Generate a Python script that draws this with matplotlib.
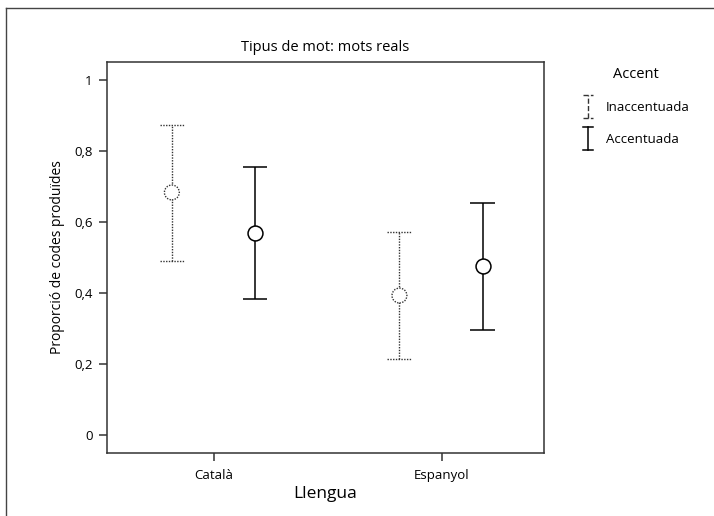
import matplotlib
matplotlib.use("Agg")
import matplotlib.pyplot as plt
from matplotlib.lines import Line2D
from matplotlib.legend_handler import HandlerBase

plt.rcParams['font.family'] = ['Open Sans', 'DejaVu Sans']

# data
languages = ["Català", "Espanyol"]
groups = ["Inaccentuada", "Accentuada"]
means = {"Inaccentuada": [0.683, 0.393], "Accentuada": [0.570, 0.475]}
lower = {"Inaccentuada": [0.491, 0.215], "Accentuada": [0.384, 0.297]}
upper = {"Inaccentuada": [0.874, 0.571], "Accentuada": [0.755, 0.653]}
yticks = [0, 0.2, 0.4, 0.6, 0.8, 1]
ytick_labels = ["0", "0,2", "0,4", "0,6", "0,8", "1"]

styles = {
    "Inaccentuada": dict(ls=(0, (1, 1)), lw=1.0, color="#333333", offset=-0.185),
    "Accentuada": dict(ls="-", lw=1.1, color="black", offset=0.18),
}
cap = 0.053


class IBeamHandler(HandlerBase):
    # vertical bar with two caps, like the error bars
    def create_artists(self, legend, orig_handle, xdescent, ydescent,
                       width, height, fontsize, trans):
        ls = orig_handle.get_linestyle()
        lw = orig_handle.get_linewidth()
        col = orig_handle.get_color()
        cx = width / 2 - xdescent
        y0 = -ydescent - 5
        y1 = height - ydescent + 5
        hw = 3.6
        arts = [
            Line2D([cx, cx], [y0, y1], ls=ls, lw=lw, color=col),
            Line2D([cx - hw, cx + hw], [y0, y0], ls=ls, lw=lw, color=col),
            Line2D([cx - hw, cx + hw], [y1, y1], ls=ls, lw=lw, color=col),
        ]
        for a in arts:
            a.set_transform(trans)
        return arts


fig = plt.figure(figsize=(7.14, 5.16), dpi=100)
ax = fig.add_axes([0.1499, 0.1221, 0.612, 0.7578])

xpos = [1, 2]
handles = []
for g in groups:
    st = styles[g]
    xs = [x + st["offset"] for x in xpos]
    ax.vlines(xs, lower[g], upper[g], colors=st["color"], linestyles=[st["ls"]],
              linewidths=st["lw"], zorder=2)
    for x, lo, hi in zip(xs, lower[g], upper[g]):
        ax.hlines([lo, hi], x - cap, x + cap, colors=st["color"],
                  linestyles=[st["ls"]], linewidths=st["lw"], zorder=2)
    ax.scatter(xs, means[g], s=115, facecolors="white", edgecolors=st["color"],
               linewidths=st["lw"], linestyles=[st["ls"]], zorder=3)
    handles.append(Line2D([], [], ls=st["ls"], lw=st["lw"], color=st["color"]))

ax.set_xlim(0.53, 2.45)
ax.set_ylim(-0.05, 1.05)
ax.set_xticks(xpos)
ax.set_xticklabels(languages, fontsize=9.5)
ax.set_yticks(yticks)
ax.set_yticklabels(ytick_labels, fontsize=9.5)
ax.tick_params(direction="out", length=5.8, width=1.1, color="#333333")
ax.tick_params(axis="x", pad=5.5)
ax.tick_params(axis="y", pad=4.5)

for s in ax.spines.values():
    s.set_color("#333333")
    s.set_linewidth(1.1)

ax.set_title("Tipus de mot: mots reals", fontsize=10.5, pad=8)
ax.set_xlabel("Llengua", fontsize=12.5, labelpad=3)
ax.set_ylabel("Proporció de codes produïdes", fontsize=10, labelpad=7)

leg = fig.legend(handles, groups, title="Accent", loc="upper left",
                 bbox_to_anchor=(0.797, 0.894), frameon=False, fontsize=9.5,
                 title_fontsize=10.5, handlelength=1.0, handletextpad=0.9,
                 labelspacing=1.45,
                 handler_map={h: IBeamHandler() for h in handles})
leg._legend_box.align = "center"

# outer frame around the figure (open to the right and bottom)
fig.add_artist(Line2D([6 / 714, 6 / 714], [0, 1 - 8 / 516], transform=fig.transFigure,
                      color="#444444", lw=1.0))
fig.add_artist(Line2D([6 / 714, 1], [1 - 8 / 516, 1 - 8 / 516], transform=fig.transFigure,
                      color="#444444", lw=1.0))

fig.savefig("out.png", dpi=100)
